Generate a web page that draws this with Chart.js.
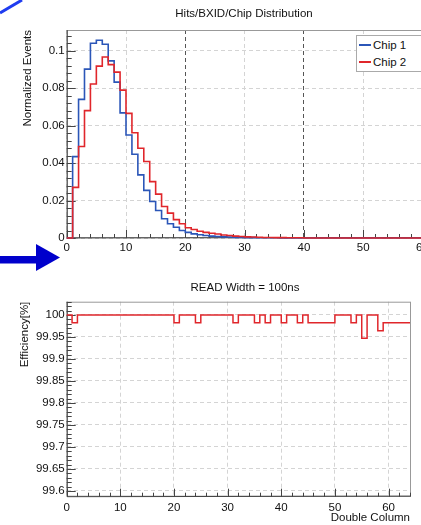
<!DOCTYPE html>
<html>
<head>
<meta charset="utf-8">
<script src="https://cdn.jsdelivr.net/npm/chart.js@4"></script>
<style>
  html, body { margin: 0; padding: 0; background: #fff; }
  #wrap { position: relative; width: 421px; height: 525px; overflow: hidden; font-family: "Liberation Sans", Arial, sans-serif; color: #111; }
  #c1 { position: absolute; left: 0; top: 0; }
  #c2 { position: absolute; left: 0; top: 262px; }
  .title { position: absolute; font-size: 11.5px; white-space: nowrap; transform: translate(-50%, -50%); }
  #legend { position: absolute; left: 356px; top: 35px; width: 66px; height: 37px; border: 1px solid #aaa; background: #fff; box-sizing: border-box; font-size: 11.5px; }
  #legend .ln { position: absolute; left: 2px; width: 12px; height: 2px; }
  #legend .tx { position: absolute; left: 16px; line-height: 14px; white-space: nowrap; }
  svg { position: absolute; left: 0; top: 0; }
</style>
</head>
<body>
<div id="wrap">
  <canvas id="c1" width="440" height="262"></canvas>
  <canvas id="c2" width="421" height="263"></canvas>
  <div class="title" style="left:244px;top:13px">Hits/BXID/Chip Distribution</div>
  <div class="title" style="left:245px;top:287px">READ Width = 100ns</div>
  <div id="legend">
    <div class="ln" style="top:8px;background:#2b56b8"></div><div class="tx" style="top:2px">Chip 1</div>
    <div class="ln" style="top:25px;background:#e0262b"></div><div class="tx" style="top:19px">Chip 2</div>
  </div>
  <svg width="421" height="525">
    <line x1="0" y1="13" x2="22" y2="0" stroke="#1f3cf0" stroke-width="3"/>
    <rect x="0" y="256" width="38" height="7.5" fill="#0000cc"/>
    <polygon points="36,244 60,257.5 36,271" fill="#0000cc"/>
  </svg>
</div>
<script>
// ---- top histogram: bins of width 1 from 0 to 60
const binLow = [0,1,2,3,4,5,6,7,8,9,10,11,12,13,14,15,16,17,18,19,20,21,22,23,24,25,26,27,28,29,
  30,31,32,33,34,35,36,37,38,39,40,41,42,43,44,45,46,47,48,49,50,51,52,53,54,55,56,57,58,59];
const histEnd = 60;
const chip1 = [0,0.0434,0.074,0.0901,0.1039,0.1055,0.1034,0.0945,0.0832,0.0668,0.055,0.0447,0.0337,0.0254,0.0195,
  0.0147,0.0103,0.0076,0.0057,0.004,0.003,0.0022,0.0017,0.0013,0.001,0.0008,0.0006,0.0005,0.0003,0.0003,
  0.0002,0.0002,0.0001,0.0001,0.0001,0.0001,0,0,0,0,0,0,0,0,0,0,0,0,0,0,0,0,0,0,0,0,0,0,0,0];
const chip2 = [0,0.027,0.0488,0.068,0.0822,0.0917,0.0966,0.0925,0.0885,0.0789,0.0665,0.0562,0.0479,0.0408,0.0301,
  0.0234,0.0168,0.0133,0.0098,0.0076,0.0055,0.0045,0.0036,0.003,0.0025,0.0021,0.0016,0.0013,0.001,0.0008,
  0.0006,0.0005,0.0004,0.0003,0.0003,0.0002,0.0002,0.0001,0.0001,0.0001,0,0,0,0,0,0,0,0,0,0,0,0,0,0,0,0,0,0,0,0];
const xTicksTop = [0,10,20,30,40,50,60];
const yTicksTop = [0,0.02,0.04,0.06,0.08,0.1];
const yLabelsTop = ['0','0.02','0.04','0.06','0.08','0.1'];

// ---- bottom efficiency per double column 0..63
const columns = [0,1,2,3,4,5,6,7,8,9,10,11,12,13,14,15,16,17,18,19,20,21,22,23,24,25,26,27,28,29,30,31,
  32,33,34,35,36,37,38,39,40,41,42,43,44,45,46,47,48,49,50,51,52,53,54,55,56,57,58,59,60,61,62,63];
const colEnd = 64;
const efficiency = [100,99.982,100,100,100,100,100,100,100,100,100,100,100,100,100,100,
  100,100,100,100,99.982,100,100,100,99.982,100,100,100,100,100,100,99.982,
  100,100,100,99.982,100,99.982,100,100,99.982,100,100,99.982,100,99.982,99.982,99.982,
  99.982,99.982,100,100,100,99.982,100,99.947,100,100,99.964,99.982,99.982,99.982,99.982,99.982];
const xTicksBot = [0,10,20,30,40,50,60];
const yTicksBot = [99.6,99.65,99.7,99.75,99.8,99.85,99.9,99.95,100];
const yLabelsBot = ['99.6','99.65','99.7','99.75','99.8','99.85','99.9','99.95','100'];

const FONT = { family: '"Liberation Sans", Arial, sans-serif', size: 11.5 };

function histPoints(lows, vals, end) {
  const pts = lows.map((x, i) => ({ x: x, y: vals[i] }));
  pts.push({ x: end, y: vals[vals.length - 1] });
  return pts;
}

// ROOT-like frame and inner tick marks
const rootFrame = {
  id: 'rootFrame',
  beforeDatasetsDraw(chart, args, o) {
    const { ctx, chartArea: a, scales } = chart;
    const x = scales.x, y = scales.y;
    ctx.save();
    ctx.strokeStyle = '#999';
    ctx.lineWidth = 1;
    ctx.strokeRect(a.left + 0.5, a.top + 0.5, a.width, a.height - 1);
    ctx.strokeStyle = '#444';
    ctx.beginPath();
    ctx.moveTo(a.left + 0.5, a.top); ctx.lineTo(a.left + 0.5, a.bottom);
    ctx.lineTo(a.right, a.bottom - 0.5);
    for (let i = 0; x.min + i * o.xMinor <= x.max + 1e-9; i++) {
      const v = x.min + i * o.xMinor;
      const px = Math.round(x.getPixelForValue(v)) + 0.5;
      const major = i % o.xPer === 0;
      ctx.moveTo(px, a.bottom); ctx.lineTo(px, a.bottom - (major ? 8 : 4));
    }
    for (let i = 0; y.min + i * o.yMinor <= y.max + 1e-9; i++) {
      const v = o.yStart + i * o.yMinor;
      if (v < y.min - 1e-9 || v > y.max + 1e-9) continue;
      const py = Math.round(y.getPixelForValue(v)) + 0.5;
      const major = i % o.yPer === 0;
      ctx.moveTo(a.left, py); ctx.lineTo(a.left + (major ? 9 : 5), py);
    }
    ctx.stroke();
    ctx.restore();
  }
};

function fixedTicks(values) {
  return s => { s.ticks = values.map(v => ({ value: v })); };
}

// top chart
new Chart(document.getElementById('c1'), {
  type: 'line',
  data: {
    datasets: [
      { label: 'Chip 2', data: histPoints(binLow, chip2, histEnd), borderColor: '#e0262b', borderWidth: 1.6, stepped: 'before', pointRadius: 0, order: 0, clip: 3 },
      { label: 'Chip 1', data: histPoints(binLow, chip1, histEnd), borderColor: '#2b56b8', borderWidth: 1.6, stepped: 'before', pointRadius: 0, order: 1, clip: 3 }
    ]
  },
  options: {
    responsive: false, animation: false,
    layout: { padding: { left: 0, top: 30, right: 17.5, bottom: 0 } },
    plugins: {
      legend: { display: false }, tooltip: { enabled: false },
      rootFrame: { xMinor: 2, xPer: 5, yMinor: 0.004, yPer: 5, yStart: 0 }
    },
    scales: {
      x: {
        type: 'linear', min: 0, max: 60,
        afterBuildTicks: fixedTicks(xTicksTop),
        afterFit: s => { s.height = 24; },
        grid: { drawTicks: false, color: c => (c.tick && (c.tick.value === 20 || c.tick.value === 40)) ? '#555' : '#d4d4d4' },
        border: { display: false, dash: [4, 3] },
        ticks: { autoSkip: false, maxRotation: 0, padding: 3, color: '#111', font: FONT, callback: v => String(v) }
      },
      y: {
        min: 0, max: 0.111,
        afterBuildTicks: fixedTicks(yTicksTop),
        afterFit: s => { s.width = 66.7; },
        grid: { drawTicks: false, color: '#d4d4d4' },
        border: { display: false, dash: [4, 3] },
        ticks: { padding: 2, color: '#111', font: FONT, callback: (v, i) => yLabelsTop[i] },
        title: { display: true, text: 'Normalized Events', align: 'end', color: '#111', font: FONT, padding: { top: 21, bottom: 0 } }
      }
    }
  },
  plugins: [rootFrame]
});

// bottom chart
new Chart(document.getElementById('c2'), {
  type: 'line',
  data: {
    datasets: [
      { label: 'Efficiency', data: histPoints(columns, efficiency, colEnd), borderColor: '#e0262b', borderWidth: 1.5, stepped: 'before', pointRadius: 0, clip: 3 }
    ]
  },
  options: {
    responsive: false, animation: false,
    layout: { padding: { left: 0, top: 39.7, right: 11, bottom: 0 } },
    plugins: {
      legend: { display: false }, tooltip: { enabled: false },
      rootFrame: { xMinor: 2, xPer: 5, yMinor: 0.01, yPer: 5, yStart: 99.6 }
    },
    scales: {
      x: {
        type: 'linear', min: 0, max: 64,
        afterBuildTicks: fixedTicks(xTicksBot),
        afterFit: s => { s.height = 28.3; },
        grid: { drawTicks: false, color: '#d4d4d4' },
        border: { display: false, dash: [4, 3] },
        ticks: { autoSkip: false, maxRotation: 0, padding: 4, color: '#111', font: FONT, callback: v => String(v) },
        title: { display: true, text: 'Double Column', align: 'end', color: '#111', font: FONT, padding: { top: 0, bottom: 0 } }
      },
      y: {
        min: 99.587, max: 100.03,
        afterBuildTicks: fixedTicks(yTicksBot),
        afterFit: s => { s.width = 66.7; },
        grid: { drawTicks: false, color: '#d4d4d4' },
        border: { display: false, dash: [4, 3] },
        ticks: { padding: 2, color: '#111', font: FONT, callback: (v, i) => yLabelsBot[i] },
        title: { display: true, text: 'Efficiency[%]', align: 'end', color: '#111', font: FONT, padding: { top: 18, bottom: 0 } }
      }
    }
  },
  plugins: [rootFrame]
});
</script>
</body>
</html>
